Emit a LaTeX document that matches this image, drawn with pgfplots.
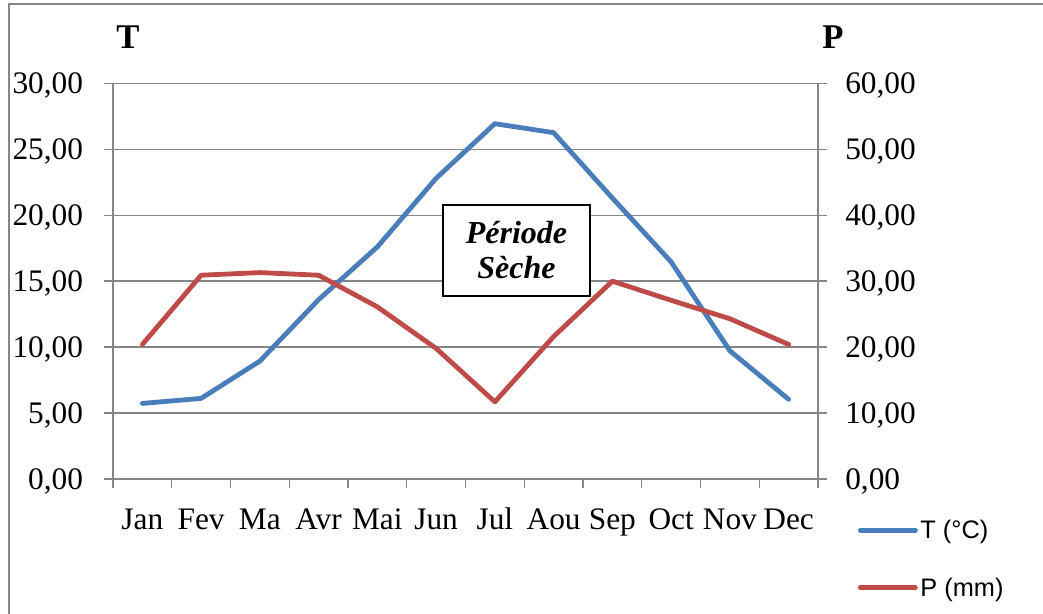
\documentclass[border=0pt]{standalone}
\usepackage{pgfplots}
\pgfplotsset{compat=1.18}
\usepackage{pgfplotstable}
\usepackage{fontspec}
\setmainfont{Liberation Serif}
\newfontfamily\arialfont{Liberation Sans}
\definecolor{tblue}{HTML}{4A7EBB}
\definecolor{pred}{HTML}{BE4B48}
\definecolor{axgray}{HTML}{868686}

\pgfplotstableread{
m T P
1 5.73 20.4
2 6.11 30.9
3 8.94 31.3
4 13.6 30.9
5 17.6 26.1
6 22.8 19.8
7 26.94 11.7
8 26.26 21.6
9 21.3 30.0
10 16.46 27.1
11 9.72 24.3
12 6.04 20.4
}\datatable

\begin{document}
\begin{tikzpicture}
\path[use as bounding box] (0,0) rectangle (782.25pt,460.5pt);
\draw[axgray, line width=1pt] (6.75pt,0) -- (6.75pt,457.5pt) -- (782.25pt,457.5pt);
\pgfplotsset{
 common/.style={
   at={(84.75pt,101.25pt)}, anchor=south west,
   scale only axis, width=528.75pt, height=296.75pt,
   xmin=0.5, xmax=12.5,
   tick align=outside, major tick length=6.75pt,
   every tick/.style={axgray, line width=1pt},
   axis line style={-, axgray, line width=1pt},
   tick label style={font=\fontsize{23.5}{28}\selectfont},
   /pgf/number format/.cd, fixed, fixed zerofill, precision=2, use comma, assume math mode=true,
 }
}
\begin{axis}[common,
  ymin=0, ymax=30, ytick={0,5,...,30},
  axis y line*=left, axis x line*=bottom,
  xtick={0.5,1.5,...,12.5}, x tick label as interval,
  xticklabels={Jan,Fev,Ma,Avr,Mai,Jun,Jul,Aou,Sep,Oct,Nov,Dec},
  ymajorgrids, grid style={axgray, line width=1pt},
  yticklabel style={anchor=east, inner sep=0pt, text depth=0pt, xshift=-15.5pt},
  xticklabel style={anchor=base, inner sep=0pt, yshift=-31.5pt},
]
\addplot[tblue, line width=3.6pt, line join=round, line cap=round] table[x=m,y=T]{\datatable};
\end{axis}
\begin{axis}[common,
  ymin=0, ymax=60, ytick={0,10,...,60},
  axis y line*=right, axis x line=none,
  yticklabel style={anchor=west, inner sep=0pt, text depth=0pt, xshift=13.5pt},
  legend style={draw=none, fill=none, at={(axis description cs:1.0567,-0.2022)}, anchor=west,
    inner sep=0pt, outer sep=0pt, row sep=24pt, font=\arialfont\fontsize{19}{22}\selectfont},
  legend image code/.code={\draw[#1, line cap=round] (0pt,0pt) -- (41.25pt,0pt);},
  legend cell align=left,
]
\addlegendimage{tblue, line width=3.6pt}
\addlegendentry{T (°C)}
\addplot[pred, line width=3.6pt, line join=round, line cap=round] table[x=m,y=P]{\datatable};
\addlegendentry{P (mm)}
\end{axis}
\node[font=\bfseries\fontsize{26}{30}\selectfont] at (96pt,432.75pt) {T};
\node[font=\bfseries\fontsize{26}{30}\selectfont] at (624.75pt,432.75pt) {P};
\node[draw=black, fill=white, line width=1.5pt, minimum width=110.25pt, minimum height=68.25pt, align=center,
  font=\bfseries\itshape\fontsize{24}{26.25}\selectfont, inner sep=0pt] at (387.4pt,272.6pt) {Période\\Sèche};
\end{tikzpicture}
\end{document}
